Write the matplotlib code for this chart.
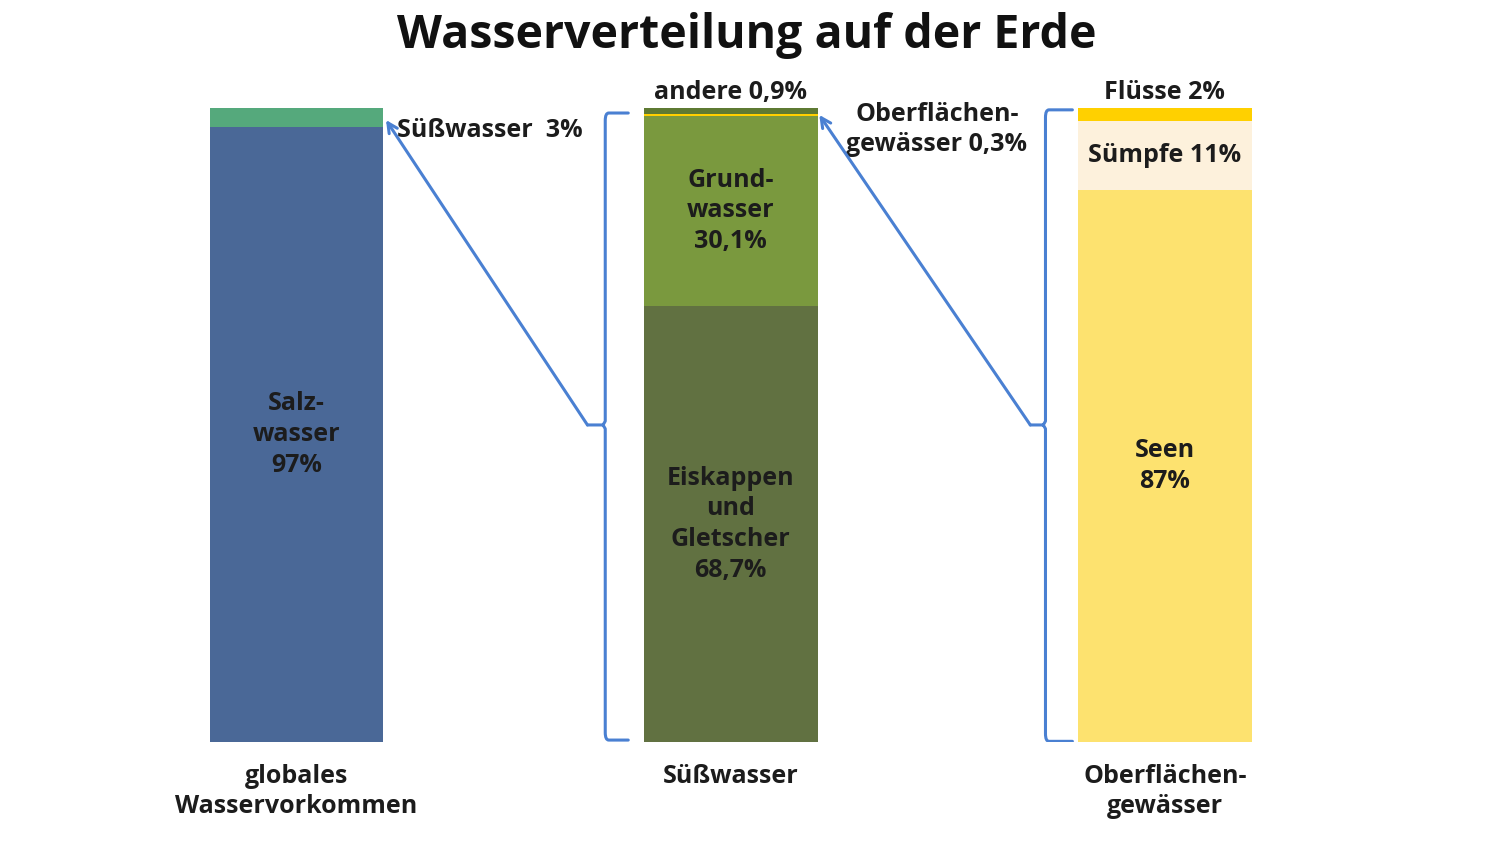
import matplotlib
matplotlib.use("Agg")
import matplotlib.pyplot as plt
from matplotlib.path import Path
from matplotlib.patches import PathPatch

plt.rcParams['font.family'] = ['Open Sans', 'DejaVu Sans']

# ---- data ----
categories = ["globales\nWasservorkommen", "Süßwasser", "Oberflächen-\ngewässer"]
bar1_values = [97, 3]
bar1_labels = ["Salz-\nwasser\n97%", "Süßwasser  3%"]
bar1_colors = ["#4a6897", "#55a97c"]

bar2_values = [68.7, 30.1, 0.3, 0.9]
bar2_labels = ["Eiskappen\nund\nGletscher\n68,7%", "Grund-\nwasser\n30,1%",
               "Oberflächen-\ngewässer 0,3%", "andere 0,9%"]
bar2_colors = ["#617141", "#7a993e", "#ffd000", "#5e7a33"]

bar3_values = [87, 11, 2]
bar3_labels = ["Seen\n87%", "Sümpfe 11%", "Flüsse 2%"]
bar3_colors = ["#fde26f", "#fdf1dc", "#ffd000"]

title = "Wasserverteilung auf der Erde"

# ---- figure ----
fig = plt.figure(figsize=(14.94, 8.42), dpi=100)
ax = fig.add_axes([0.0532, 0.1188, 0.8718, 0.753])
ax.set_xlim(-0.5, 2.5)
ax.set_ylim(0, 100)
ax.axis("off")

W = 0.4
txt = dict(fontsize=18, fontweight="bold", color="#1c1c1c", linespacing=1.3)

for i, (vals, cols) in enumerate([(bar1_values, bar1_colors),
                                  (bar2_values, bar2_colors),
                                  (bar3_values, bar3_colors)]):
    bottom = 0
    for v, c in zip(vals, cols):
        ax.bar(i, v, bottom=bottom, width=W, color=c, edgecolor="none")
        bottom += v

# labels inside bars
ax.text(0, bar1_values[0] / 2, bar1_labels[0], ha="center", va="center", **txt)
ax.text(1, bar2_values[0] / 2, bar2_labels[0], ha="center", va="center", **txt)
ax.text(1, bar2_values[0] + bar2_values[1] / 2, bar2_labels[1], ha="center", va="center", **txt)
ax.text(2, bar3_values[0] / 2, bar3_labels[0], ha="center", va="center", **txt)
ax.text(2, bar3_values[0] + bar3_values[1] / 2, bar3_labels[1], ha="center", va="center", **txt)

# labels outside bars
ax.text(0.232, 96.4, bar1_labels[1], ha="left", va="center", **txt)
ax.text(1, 102.4, bar2_labels[3], ha="center", va="center", **txt)
ax.text(1.475, 96.6, bar2_labels[2], ha="center", va="center", **txt)
ax.text(2, 102.4, bar3_labels[2], ha="center", va="center", **txt)

# category labels
for i, c in enumerate(categories):
    ax.text(i, -3.4, c, ha="center", va="top", **txt)

# braces
bc = "#4a80d2"


def brace(xv, xtip, xend, ytop, ybot, ymid):
    r = 1.2
    verts = [(xend, ytop), (xv + 0.008, ytop), (xv, ytop), (xv, ytop - r),
             (xv, ymid + 0.6), (xv - 0.005, ymid), (xtip, ymid),
             (xv - 0.005, ymid), (xv, ymid - 0.6),
             (xv, ybot + r), (xv, ybot), (xv + 0.008, ybot), (xend, ybot)]
    codes = [Path.MOVETO, Path.LINETO, Path.CURVE3, Path.CURVE3,
             Path.LINETO, Path.LINETO, Path.LINETO,
             Path.MOVETO, Path.LINETO,
             Path.LINETO, Path.CURVE3, Path.CURVE3, Path.LINETO]
    ax.add_patch(PathPatch(Path(verts, codes), fill=False, edgecolor=bc,
                           lw=2.2, capstyle="round", joinstyle="round"))


brace(0.711, 0.670, 0.764, 99.2, 0.3, 50.0)
brace(1.725, 1.690, 1.787, 99.7, 0.1, 50.0)

arrow = dict(arrowstyle="->,head_length=0.7,head_width=0.35", color=bc, lw=2.2,
             shrinkA=0, shrinkB=0)
ax.annotate("", xy=(0.206, 98.1), xytext=(0.670, 50.0), arrowprops=arrow)
ax.annotate("", xy=(1.204, 98.9), xytext=(1.690, 50.0), arrowprops=arrow)

fig.text(0.5, 0.958, title, ha="center", va="center", fontsize=33.5,
         fontweight="bold", color="#111111")

fig.savefig("out.png", dpi=100, facecolor="white")
